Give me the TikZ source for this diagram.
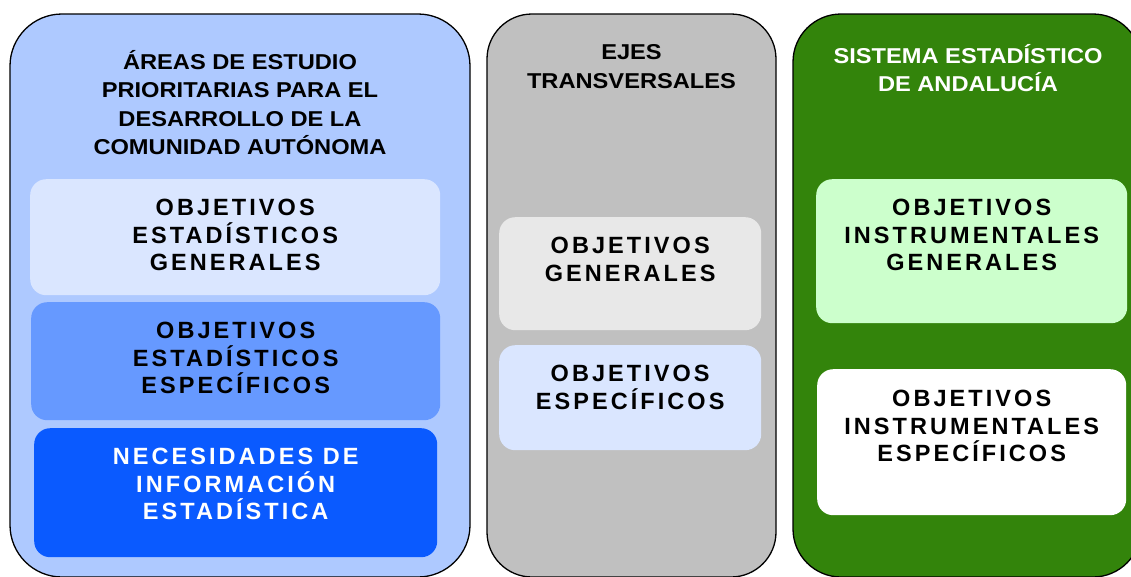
\documentclass[tikz,border=0pt]{standalone}
\usepackage{fontspec}
\setmainfont[FakeStretch=1.1]{Liberation Sans}
\newfontfamily\spacedfont[LetterSpace=13]{Liberation Sans}
\usetikzlibrary{positioning}
\definecolor{areablue}{HTML}{AEC9FF}
\definecolor{paleblue}{HTML}{DAE6FF}
\definecolor{midblue}{HTML}{6699FF}
\definecolor{deepblue}{HTML}{0A5AFF}
\definecolor{ejesgray}{HTML}{C0C0C0}
\definecolor{palegray}{HTML}{E8E8E8}
\definecolor{sistgreen}{HTML}{33840B}
\definecolor{palegreen}{HTML}{CCFFCC}
\tikzset{
  panel/.style={draw=black, line width=1.3pt},
  box/.style={draw=none, rounded corners=16pt, anchor=north west, inner sep=0pt},
  title/.style={font=\bfseries\fontsize{21.5}{28.5}\selectfont, align=center, anchor=north, inner sep=0pt},
  boxtext/.style={font=\spacedfont\bfseries\fontsize{23.5}{27.5}\selectfont, align=center, inner sep=0pt}
}
\begin{document}
\begin{tikzpicture}[x=1pt,y=-1pt]
\useasboundingbox (0,0) rectangle (1131,576);
\clip (0,0) rectangle (1131,576);
\draw[panel, fill=areablue, rounded corners=52pt] (10,14) rectangle (470,577);
\draw[panel, fill=ejesgray, rounded corners=45pt] (487,14) rectangle (776,577);
\draw[panel, fill=sistgreen, rounded corners=48pt] (793,14) rectangle (1141,577);

\node[title] (areas) at (240,50) {ÁREAS DE ESTUDIO\\PRIORITARIAS PARA EL\\DESARROLLO DE LA\\COMUNIDAD AUTÓNOMA};
\node[title] (ejes) at (631.5,44.5) {EJES\\TRANSVERSALES};
\node[title, text=white] (sistema) at (968,44) {SISTEMA ESTADÍSTICO\\DE ANDALUCÍA};

\node[box, fill=paleblue, minimum width=410pt, minimum height=116pt] (estgen) at (30,179) {};
\node[box, fill=midblue, minimum width=409pt, minimum height=118pt] (estesp) at (31,302) {};
\node[box, fill=deepblue, minimum width=403pt, minimum height=129pt] (necesidades) at (34,428) {};
\node[box, fill=palegray, minimum width=262pt, minimum height=113pt] (ejesgen) at (499,217) {};
\node[box, fill=paleblue, minimum width=262pt, minimum height=105pt] (ejesesp) at (499,345) {};
\node[box, fill=palegreen, minimum width=311pt, minimum height=144pt] (instgen) at (816,179) {};
\node[box, fill=white, minimum width=309pt, minimum height=146pt] (instesp) at (817,369) {};

\node[boxtext, below=20pt of estgen.north] (estgentext) {OBJETIVOS\\ESTADÍSTICOS\\GENERALES};
\node[boxtext, below=20pt of estesp.north] (estesptext) {OBJETIVOS\\ESTADÍSTICOS\\ESPECÍFICOS};
\node[boxtext, text=white, below=20pt of necesidades.north] (necesidadestext) {NECESIDADES DE\\INFORMACIÓN\\ESTADÍSTICA};
\node[boxtext, below=20pt of ejesgen.north] (ejesgentext) {OBJETIVOS\\GENERALES};
\node[boxtext, below=20pt of ejesesp.north] (ejesesptext) {OBJETIVOS\\ESPECÍFICOS};
\node[boxtext, below=20pt of instgen.north] (instgentext) {OBJETIVOS\\INSTRUMENTALES\\GENERALES};
\node[boxtext, below=21pt of instesp.north] (instesptext) {OBJETIVOS\\INSTRUMENTALES\\ESPECÍFICOS};
\end{tikzpicture}
\end{document}
